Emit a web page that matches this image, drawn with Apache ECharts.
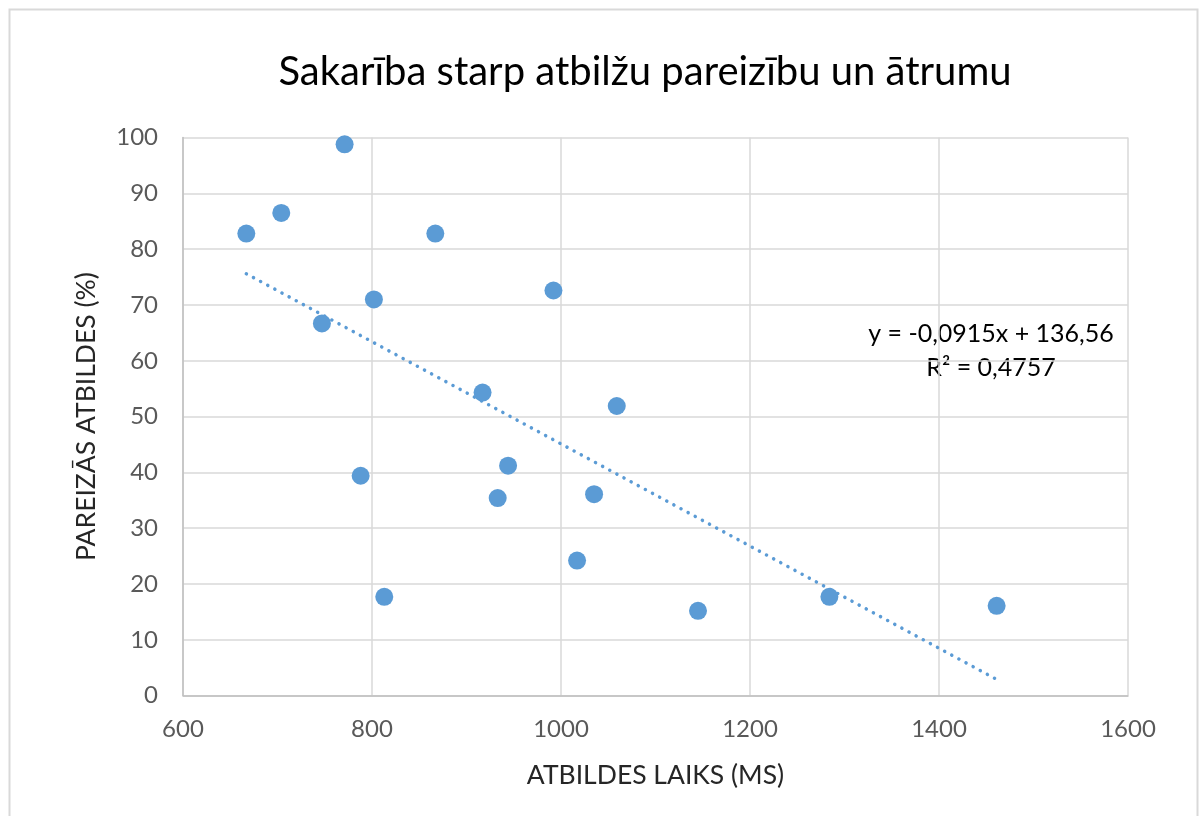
<!DOCTYPE html>
<html>
<head>
<meta charset="utf-8">
<title>Sakarība starp atbilžu pareizību un ātrumu</title>
<script src="https://cdn.jsdelivr.net/npm/echarts@6/dist/echarts.min.js"></script>
<style>
	html, body { margin: 0; padding: 0; background: #fff; }
	#chart { width: 1199px; height: 816px; }
</style>
</head>
<body>
<div id="chart"></div>
<script>
// dati nolasīti no attēla
var answerTime = [667, 704, 771, 747, 802, 788, 813, 867, 917, 944, 933, 992, 1017, 1035, 1059, 1145, 1284, 1461];
var correctPct = [82.8, 86.5, 98.8, 66.7, 71.0, 39.4, 17.7, 82.8, 54.3, 41.2, 35.4, 72.6, 24.2, 36.1, 51.9, 15.2, 17.7, 16.1];
// tendences līnijas galapunkti
var trendX = [667, 1461];
var trendY = [75.6, 2.9];
var xTicks = { min: 600, max: 1600, step: 200 };
var yTicks = { min: 0, max: 100, step: 10 };
var equationText = ['y = -0,0915x + 136,56', 'R² = 0,4757'];

var FONT = 'Lato';
var BLUE = '#5b9bd5';

var points = answerTime.map(function(x, i){ return [x, correctPct[i]]; });
var trend = trendX.map(function(x, i){ return [x, trendY[i]]; });

var chart = echarts.init(document.getElementById('chart'));
chart.setOption({
	animation: false,
	textStyle: { fontFamily: FONT },
	title: {
		text: 'Sakarība starp atbilžu pareizību un ātrumu',
		left: 640,
		textAlign: 'center',
		top: 47,
		textStyle: { fontFamily: FONT, fontSize: 40, fontWeight: 'normal', color: '#000' }
	},
	grid: { left: 183, right: 71, top: 137.6, bottom: 120.4 },
	xAxis: {
		type: 'value',
		min: xTicks.min, max: xTicks.max, interval: xTicks.step,
		name: 'ATBILDES LAIKS (MS)',
		nameLocation: 'middle',
		nameGap: 66,
		nameTextStyle: { fontFamily: FONT, fontSize: 26.5, color: '#262626' },
		axisLine: { show: true, lineStyle: { color: '#bfbfbf', width: 1.5 } },
		axisTick: { show: false },
		axisLabel: {
			fontFamily: FONT, fontSize: 24, color: '#595959', margin: 22,
			formatter: function(v){ return String(v); }
		},
		splitLine: { show: true, lineStyle: { color: '#d9d9d9', width: 1.5 } }
	},
	yAxis: {
		type: 'value',
		min: yTicks.min, max: yTicks.max, interval: yTicks.step,
		name: 'PAREIZĀS ATBILDES (%)',
		nameLocation: 'middle',
		nameRotate: 90,
		nameGap: 83,
		nameTextStyle: { fontFamily: FONT, fontSize: 26.5, color: '#262626' },
		axisLine: { show: true, lineStyle: { color: '#bfbfbf', width: 1.5 } },
		axisTick: { show: false },
		axisLabel: { fontFamily: FONT, fontSize: 24, color: '#595959', margin: 25 },
		splitLine: { show: true, lineStyle: { color: '#d9d9d9', width: 1.5 } }
	},
	series: [
		{
			type: 'line',
			data: trend,
			symbol: 'none',
			silent: true,
			lineStyle: { color: BLUE, width: 3.5, type: [0.1, 8], cap: 'round' },
			z: 1
		},
		{
			type: 'scatter',
			data: points,
			symbolSize: 18,
			itemStyle: { color: BLUE, opacity: 1 },
			z: 2
		}
	],
	graphic: [
		{
			type: 'rect',
			shape: { x: 9.5, y: 9.5, width: 1188, height: 830 },
			style: { fill: 'none', stroke: '#d9d9d9', lineWidth: 2 },
			silent: true
		},
		{
			type: 'text',
			x: 991, y: 334,
			style: { text: equationText[0], font: '25px ' + FONT, fill: '#000', align: 'center', verticalAlign: 'middle' }
		},
		{
			type: 'text',
			x: 991, y: 368,
			style: { text: equationText[1], font: '25px ' + FONT, fill: '#000', align: 'center', verticalAlign: 'middle' }
		}
	]
});
</script>
</body>
</html>
